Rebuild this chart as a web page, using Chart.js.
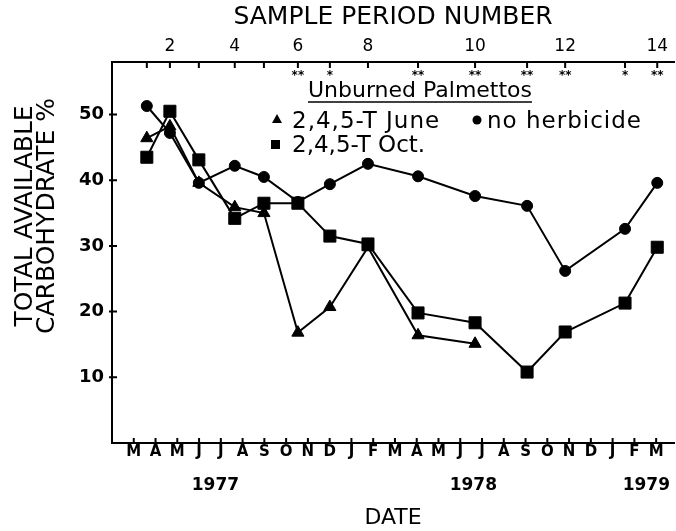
<!DOCTYPE html>
<html lang="en">
<head>
<meta charset="UTF-8">
<title>Unburned Palmettos - total available carbohydrate</title>
<script src="https://cdn.jsdelivr.net/npm/chart.js"></script>
<style>
    body {
        margin: 0;
        background: #fff;
    }
    #wrap {
        width: 676px;
        height: 531px;
    }
</style>
</head>
<body>
<div id="wrap"><canvas id="chart"></canvas></div>
<script>
    // month axis: index 0 = March 1977 ... 24 = March 1979
    const monthLabels = ['M', 'A', 'M', 'J', 'J', 'A', 'S', 'O', 'N', 'D', 'J', 'F',
                         'M', 'A', 'M', 'J', 'J', 'A', 'S', 'O', 'N', 'D', 'J', 'F', 'M'];
    const yearLabels = ['1977', '1978', '1979'];
    const yearPos = [3.75, 15.6, 23.55];

    // sample periods and the date (in months) each one was taken
    const periods = [1, 2, 3, 4, 5, 6, 7, 8, 9, 10, 11, 12, 13, 14];
    const periodMonth = [0.6, 1.66, 2.99, 4.64, 5.98, 7.54, 9.01, 10.76, 13.06, 15.68, 18.07, 19.82, 22.57, 24.05];
    const signif = ['', '', '', '', '', '**', '*', '', '**', '**', '**', '**', '*', '**'];

    // total available carbohydrate %
    const noHerbicide = [51.3, 47.2, 39.6, 42.2, 40.5, 36.7, 39.4, 42.5, 40.6, 37.6, 36.1, 26.2, 32.6, 39.6];
    const juneT = [46.4, 48.2, 39.6, 35.9, 35.0, 16.8, 20.7, 29.8, 16.4, 15.1];
    const octT = [43.5, 50.5, 43.1, 34.2, 36.5, 36.5, 31.5, 30.3, 19.8, 18.3, 10.8, 16.9, 21.3, 29.8];
    const yTicks = [10, 20, 30, 40, 50];

    const X_MIN = -1, X_MAX = 24.82;
    const FONT = '"DejaVu Sans", sans-serif';

    function pts(values) {
        return values.map((v, i) => ({ x: periodMonth[i], y: v }));
    }

    function line(label, values, style, radius) {
        return {
            label: label,
            data: pts(values),
            borderColor: '#000',
            borderWidth: 2,
            backgroundColor: '#000',
            pointBackgroundColor: '#000',
            pointBorderColor: '#000',
            pointBorderWidth: 1,
            pointStyle: style,
            pointRadius: radius,
            tension: 0
        };
    }

    // keep the plot area right up to the canvas edge
    function noSidePad(s, h) {
        s.height = h;
        s.paddingLeft = 0;
        s.paddingRight = 0;
    }

    // inward tick marks, significance stars, legend and y title
    const extras = {
        id: 'extras',
        afterDraw(chart) {
            const ctx = chart.ctx;
            const { left, top, bottom } = chart.chartArea;
            const x = chart.scales.x, xTop = chart.scales.xTop, y = chart.scales.y;
            ctx.save();
            ctx.strokeStyle = '#000';
            ctx.lineWidth = 2;
            ctx.beginPath();
            monthLabels.forEach((m, i) => {
                const px = x.getPixelForValue(i);
                ctx.moveTo(px, bottom);
                ctx.lineTo(px, bottom - 5);
            });
            periodMonth.forEach(v => {
                const px = xTop.getPixelForValue(v);
                ctx.moveTo(px, top);
                ctx.lineTo(px, top + 6);
            });
            yTicks.forEach(v => {
                const py = y.getPixelForValue(v);
                ctx.moveTo(left - 3, py);
                ctx.lineTo(left + 5, py);
            });
            ctx.stroke();

            ctx.fillStyle = '#000';
            ctx.textAlign = 'center';
            ctx.textBaseline = 'alphabetic';
            ctx.font = 'bold 12px ' + FONT;
            signif.forEach((s, i) => {
                if (s) ctx.fillText(s, xTop.getPixelForValue(periodMonth[i]), top + 17);
            });

            // legend
            ctx.font = '22px ' + FONT;
            ctx.textAlign = 'center';
            ctx.fillText('Unburned Palmettos', 420, 97);
            const w = ctx.measureText('Unburned Palmettos').width;
            ctx.lineWidth = 1.5;
            ctx.beginPath();
            ctx.moveTo(420 - w / 2, 102);
            ctx.lineTo(420 + w / 2, 102);
            ctx.stroke();

            ctx.textAlign = 'left';
            ctx.font = '23px ' + FONT;
            ctx.letterSpacing = '1px';
            ctx.fillText('2,4,5-T June', 292, 128);
            ctx.fillText('no herbicide', 487, 128);
            ctx.letterSpacing = '0px';
            ctx.fillText('2,4,5-T Oct.', 292, 152);
            ctx.beginPath();
            ctx.moveTo(277, 114);
            ctx.lineTo(282, 123);
            ctx.lineTo(272, 123);
            ctx.closePath();
            ctx.fill();
            ctx.beginPath();
            ctx.arc(477, 120, 4.5, 0, Math.PI * 2);
            ctx.fill();
            ctx.fillRect(271, 140, 9, 9);

            // y axis title, two lines
            ctx.font = '25px ' + FONT;
            ctx.textAlign = 'center';
            ctx.textBaseline = 'middle';
            ctx.translate(25, 216);
            ctx.rotate(-Math.PI / 2);
            ctx.fillText('TOTAL AVAILABLE', 0, 0);
            ctx.fillText('CARBOHYDRATE %', 0, 22);
            ctx.restore();
        }
    };

    Chart.defaults.color = '#000';
    Chart.defaults.font.family = FONT;

    const chart = new Chart(document.getElementById('chart'), {
        type: 'line',
        data: {
            datasets: [
                line('no herbicide', noHerbicide, 'circle', 5.5),
                line('2,4,5-T June', juneT, 'triangle', 7),
                line('2,4,5-T Oct.', octT, 'rect', 8.5)
            ]
        },
        options: {
            responsive: true,
            maintainAspectRatio: false,
            animation: false,
            layout: { autoPadding: false, padding: { left: 0, right: 2, top: 0, bottom: 0 } },
            plugins: {
                legend: { display: false },
                tooltip: { enabled: false }
            },
            scales: {
                x: {
                    type: 'linear',
                    position: 'bottom',
                    weight: 0,
                    min: X_MIN,
                    max: X_MAX,
                    afterBuildTicks: s => { s.ticks = monthLabels.map((m, i) => ({ value: i })); },
                    afterFit: s => noSidePad(s, 26),
                    ticks: {
                        autoSkip: false,
                        maxRotation: 0,
                        padding: 0,
                        font: { size: 15, weight: 'bold' },
                        callback: (v, i) => monthLabels[i]
                    },
                    grid: { display: false, drawTicks: false },
                    border: { display: true, color: '#000', width: 2 }
                },
                xYear: {
                    type: 'linear',
                    position: 'bottom',
                    weight: 1,
                    min: X_MIN,
                    max: X_MAX,
                    afterBuildTicks: s => { s.ticks = yearPos.map(v => ({ value: v })); },
                    afterFit: s => noSidePad(s, 62),
                    ticks: {
                        autoSkip: false,
                        maxRotation: 0,
                        padding: 6,
                        font: { size: 17, weight: 'bold' },
                        callback: (v, i) => yearLabels[i]
                    },
                    grid: { display: false, drawTicks: false },
                    border: { display: false },
                    title: {
                        display: true,
                        text: 'DATE',
                        font: { size: 22 },
                        padding: { top: 0, bottom: 0 }
                    }
                },
                xTop: {
                    type: 'linear',
                    position: 'top',
                    min: X_MIN,
                    max: X_MAX,
                    afterBuildTicks: s => { s.ticks = periodMonth.map(v => ({ value: v })); },
                    afterFit: s => noSidePad(s, 62),
                    ticks: {
                        autoSkip: false,
                        maxRotation: 0,
                        padding: 5,
                        font: { size: 17 },
                        callback: (v, i) => (periods[i] % 2 === 0 ? String(periods[i]) : '')
                    },
                    grid: { display: false, drawTicks: false },
                    border: { display: true, color: '#000', width: 2 },
                    title: {
                        display: true,
                        text: 'SAMPLE PERIOD NUMBER',
                        font: { size: 25 },
                        padding: { top: 2, bottom: 0 }
                    }
                },
                y: {
                    type: 'linear',
                    position: 'left',
                    min: 0,
                    max: 58,
                    afterBuildTicks: s => { s.ticks = yTicks.map(v => ({ value: v })); },
                    afterFit: s => { s.width = 112; s.paddingTop = 0; s.paddingBottom = 0; },
                    ticks: {
                        padding: 8,
                        font: { size: 18, weight: 'bold' },
                        callback: v => String(v)
                    },
                    grid: { display: false, drawTicks: false },
                    border: { display: true, color: '#000', width: 2 }
                }
            }
        },
        plugins: [extras]
    });
</script>
</body>
</html>
